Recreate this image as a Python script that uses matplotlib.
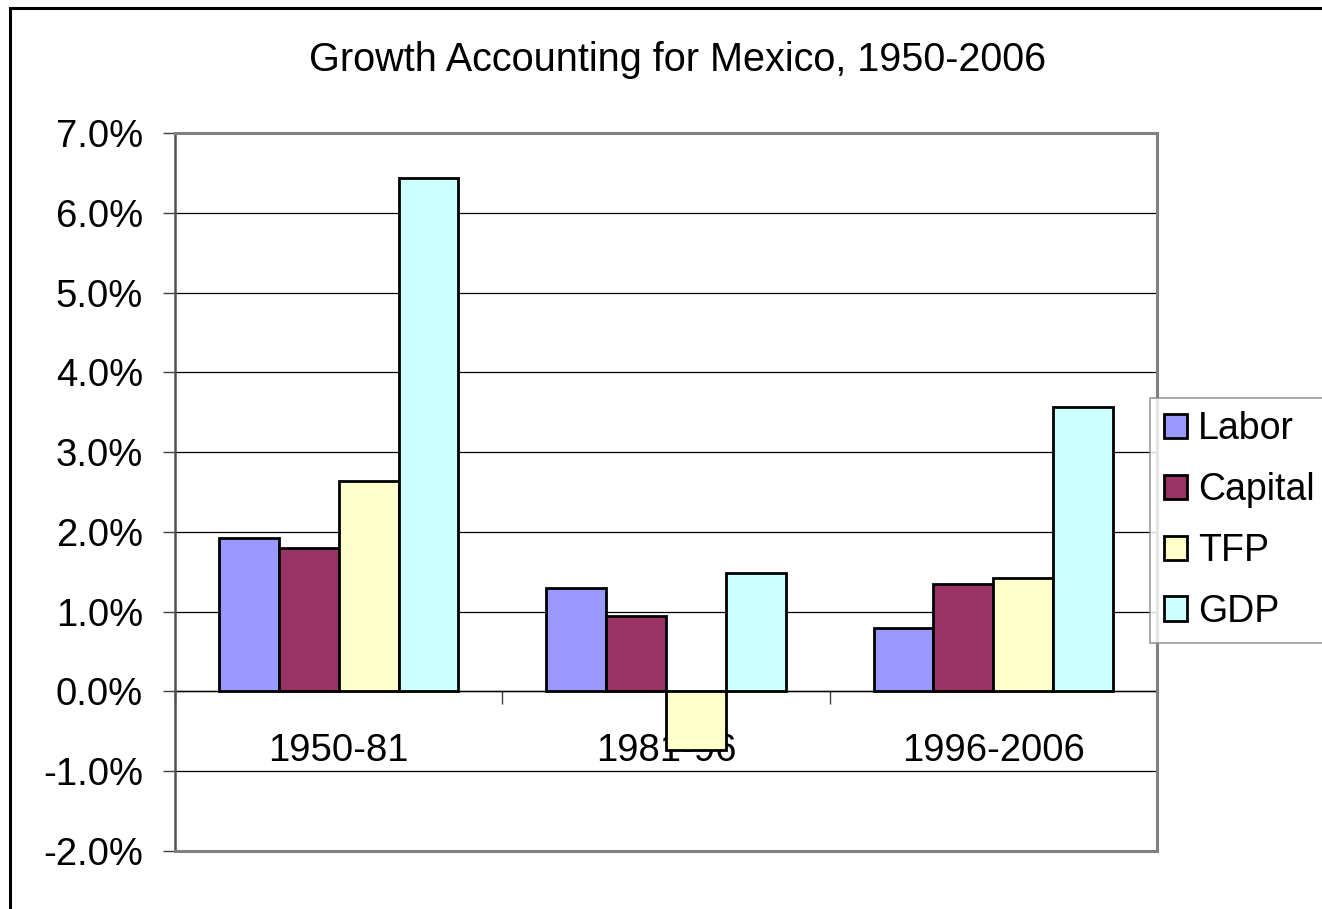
import matplotlib
matplotlib.use("Agg")
import matplotlib.pyplot as plt
import numpy as np
from matplotlib.patches import Rectangle
from matplotlib.ticker import FuncFormatter, FixedLocator

categories = ["1950-81", "1981-96", "1996-2006"]
series_names = ["Labor", "Capital", "TFP", "GDP"]
labor = [1.92, 1.30, 0.80]
capital = [1.80, 0.95, 1.35]
tfp = [2.64, -0.73, 1.42]
gdp = [6.44, 1.49, 3.57]
colors = ["#9999FF", "#993366", "#FFFFCC", "#CCFFFF"]
title = "Growth Accounting for Mexico, 1950-2006"

plt.rcParams['font.family'] = ['Liberation Sans', 'DejaVu Sans']
fig = plt.figure(figsize=(13.22, 9.09), dpi=100)
W, H = 1322, 909

# outer chart border
fig.patches.append(Rectangle((10 / W, -0.05), 1.2, (909 - 8) / H + 0.05,
                             transform=fig.transFigure, fill=False,
                             edgecolor="black", linewidth=2.2, zorder=0))

ax = fig.add_axes([175 / W, 1 - 851 / H, (1157 - 175) / W, (851 - 133) / H])
x = np.arange(len(categories))
w = 0.183
for i, (name, vals) in enumerate(zip(series_names, [labor, capital, tfp, gdp])):
    ax.bar(x + (i - 1.5) * w, vals, width=w, color=colors[i], edgecolor="black",
           linewidth=2.0, label=name, zorder=3)

ax.set_xlim(-0.5, 2.5)
ax.set_ylim(-2.0, 7.0)
ax.yaxis.set_major_locator(FixedLocator(np.arange(-2, 7.01, 1.0)))
ax.yaxis.set_major_formatter(FuncFormatter(lambda v, p: f"{v:.1f}%"))
ax.grid(axis="y", color="black", linewidth=0.9, zorder=1)
ax.tick_params(axis="y", labelsize=27.5, length=9, width=1, color="#404040", pad=14)
ax.set_xticks([])

for s in ["top", "right", "bottom"]:
    ax.spines[s].set_color("#808080")
    ax.spines[s].set_linewidth(2.2)
ax.spines["left"].set_color("#505050")
ax.spines["left"].set_linewidth(1.8)

sec = ax.secondary_xaxis(2.0 / 9.0)
sec.set_zorder(ax.get_zorder() + 1)
sec.spines["bottom"].set_color("black")
sec.spines["bottom"].set_linewidth(1.0)
sec.set_xticks(x)
sec.set_xticklabels(categories)
sec.set_xticks([-0.5, 0.5, 1.5, 2.5], minor=True)
sec.tick_params(axis="x", which="major", length=0, labelsize=27.5, pad=30)
sec.tick_params(axis="x", which="minor", length=9, width=1, color="#404040", direction="out")

fig.text(0.5 * (308 + 1047) / W, 1 - 60 / H, title, ha="center", va="center", fontsize=28.5)

leg = ax.legend(loc="upper left", bbox_to_anchor=(0.993, 0.631), fontsize=27,
                frameon=True, fancybox=False, shadow=False, handlelength=0.62,
                handleheight=0.62, handletextpad=0.3, labelspacing=0.66, borderpad=0.36,
                borderaxespad=0)
leg.get_frame().set_edgecolor("#808080")
leg.get_frame().set_linewidth(1.2)
for h in leg.legend_handles:
    h.set_linewidth(2.0)

fig.savefig("out.png", dpi=100)
